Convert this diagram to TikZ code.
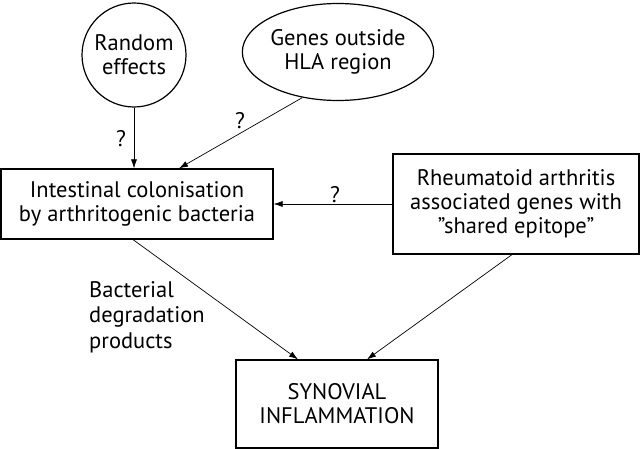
\documentclass[tikz,border=0pt]{standalone}
\usepackage{fontspec}
\setmainfont{PT Sans}
\usetikzlibrary{shapes.geometric,arrows.meta}
\tikzset{
    box/.style={draw,line width=1.2pt,align=center},
    arr/.style={-{Latex[length=9pt,width=6pt]},line width=0.7pt},
}

\begin{document}
\begin{tikzpicture}[x=1pt,y=-1pt,font=\fontsize{22.5}{24}\selectfont]
        \useasboundingbox (0,0) rectangle (640,449);
        \node[box,circle,minimum size=104pt,inner sep=0pt] (rand) at (134,55) {Random\\effects};
        \node[box,ellipse,minimum width=179pt,minimum height=97pt,inner sep=0pt] (genes) at (338,52) {Genes outside\\HLA region};
        \node[box,minimum width=272pt,minimum height=70pt] (colon) at (137,204) {Intestinal colonisation\\by arthritogenic bacteria};
        \node[box,minimum width=246pt,minimum height=100pt] (ra) at (516,204) {Rheumatoid arthritis\\associated genes with\\\char34 shared epitope\char34};
        \node[box,minimum width=202pt,minimum height=88pt] (syn) at (337,404) {SYNOVIAL\\INFLAMMATION};
        \node (q1) at (121,139) {?};
        \node (q2) at (240,121) {?};
        \node (q3) at (335,195) {?};
        \node[anchor=west,align=left,inner sep=0pt,font=\fontsize{22.5}{25.5}\selectfont] (prod) at (89,317) {Bacterial\\degradation\\products};
        \draw[arr] (rand.south) -- (rand.south |- colon.north);
        \draw[arr] (genes.232) -- ([xshift=42pt]colon.north);
        \draw[arr] (ra.west) -- (colon.east);
        \draw[arr] ([xshift=-4pt]colon.south) -- ([xshift=-39pt]syn.north);
        \draw[arr] ([xshift=-4pt]ra.south) -- ([xshift=30pt]syn.north);
    \end{tikzpicture}
\end{document}
